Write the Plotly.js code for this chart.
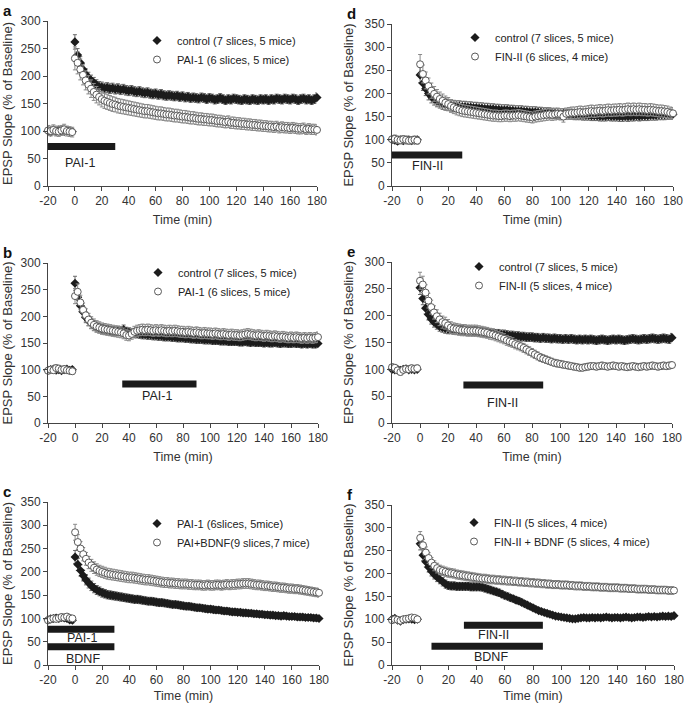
<!DOCTYPE html>
<html>
<head>
<meta charset="utf-8">
<script src="https://cdn.plot.ly/plotly-3.0.1.min.js"></script>
<style>html,body{margin:0;padding:0;background:#fff}</style>
</head>
<body>
<div id="plot" style="width:685px;height:703px"></div>
<script>
// time points (min), baseline every 2 min then post-tetanus every 2 min
const time = [-20,-18,-16,-14,-12,-10,-8,-6,-4,-2,
  0,2,4,6,8,10,12,14,16,18, 20,22,24,26,28,30,32,34,36,38,
  40,42,44,46,48,50,52,54,56,58, 60,62,64,66,68,70,72,74,76,78,
  80,82,84,86,88,90,92,94,96,98, 100,102,104,106,108,110,112,114,116,118,
  120,122,124,126,128,130,132,134,136,138, 140,142,144,146,148,150,152,154,156,158,
  160,162,164,166,168,170,172,174,176,178, 180];

// x tick labels (hyphen minus as in the original)
const xTickVals = [-20, 0, 20, 40, 60, 80, 100, 120, 140, 160, 180];
const xTickText = ["-20", "0", "20", "40", "60", "80", "100", "120", "140", "160", "180"];

// panel a
const aControl = [100,98,101,99,102,100,99,101,100,99,
  262,238,224,212,203,197,192,188,184,181, 180,178,179,177,178,176,177,175,176,174,
  173,174,172,171,172,170,169,170,168,167, 168,166,167,165,164,165,164,163,164,162,
  163,161,162,160,161,160,159,161,160,158, 160,159,157,158,160,158,156,158,157,159,
  158,157,156,158,157,156,158,157,156,158, 157,158,156,158,157,159,158,157,159,158,
  157,159,158,156,158,159,157,158,156,158, 161];
const aPai = [101,100,102,100,99,101,103,100,99,98,
  232,224,212,202,192,184,177,171,166,162, 158,155,153,151,149,148,146,145,144,143,
  142,141,140,139,138,137,136,136,135,134, 133,132,132,131,130,130,129,128,128,127,
  126,126,125,124,124,123,122,122,121,121, 120,120,119,118,118,117,116,117,115,115,
  114,114,113,113,112,112,111,111,110,110, 109,109,108,108,107,108,106,107,106,106,
  105,106,105,104,104,105,103,104,103,103, 102];

// panel d
const dControl = [100,99,97,100,98,99,100,98,99,100,
  240,222,210,200,193,188,184,181,178,176, 175,174,173,172,172,171,171,170,170,169,
  169,168,168,167,167,166,166,165,165,164, 164,164,163,163,162,162,162,161,161,160,
  160,160,159,159,158,158,158,157,157,156, 156,156,155,155,155,154,154,154,153,153,
  153,152,152,152,151,151,151,152,151,151, 151,150,150,151,150,151,151,152,151,152,
  152,152,153,153,153,154,154,154,155,155, 155];
const dFin = [101,102,100,99,101,100,98,99,100,98,
  263,242,228,216,206,199,193,188,184,180, 177,173,170,167,165,163,162,161,160,159,
  158,157,156,155,154,153,152,152,151,151, 152,152,151,152,152,153,152,151,150,149,
  148,150,151,152,153,154,155,154,155,156, 155,150,156,157,158,158,159,160,159,160,
  161,162,161,162,163,162,163,164,163,164, 164,165,164,165,166,165,166,165,166,165,
  165,164,165,164,163,162,162,161,160,158, 157];

// panel b
const bControl = [99,100,101,99,100,98,100,101,99,100,
  262,236,220,208,198,192,187,183,180,178, 176,175,174,173,172,172,173,172,175,171,
  170,169,168,168,167,166,166,165,165,164, 164,163,163,162,162,162,161,161,160,160,
  160,159,159,158,158,157,157,157,156,156, 156,155,155,155,154,154,154,153,153,153,
  153,152,152,153,152,151,152,151,151,151, 150,151,150,150,151,150,149,150,150,149,
  149,150,149,149,148,149,148,149,148,148, 149];
const bPai = [98,100,99,103,102,100,101,99,98,97,
  238,246,226,212,202,194,188,184,181,179, 177,176,175,174,173,172,171,170,168,165,
  164,167,171,173,174,175,174,175,174,173, 174,173,174,173,172,173,172,173,172,171,
  171,170,171,170,169,170,169,168,169,168, 168,167,168,167,166,167,166,165,166,165,
  165,164,165,166,167,166,165,164,165,164, 163,164,163,162,163,162,161,162,161,160,
  161,160,161,160,159,160,159,160,159,160, 161];

// panel e
const eControl = [100,99,100,98,100,101,99,100,99,100,
  252,232,214,202,194,188,184,180,178,176, 175,175,174,174,173,173,172,172,172,171,
  171,170,170,169,168,168,167,166,166,165, 165,164,163,163,162,162,161,161,160,160,
  160,159,159,158,159,158,158,157,158,157, 157,156,157,156,157,156,155,156,155,156,
  155,156,155,154,155,156,155,154,155,156, 155,156,155,154,155,156,157,156,155,156,
  157,156,157,158,157,156,157,158,157,156, 159];
const eFin = [104,103,98,95,99,101,100,102,101,102,
  265,258,243,228,216,206,199,193,188,186, 182,178,176,175,174,173,173,172,172,172,
  172,171,170,169,168,166,165,163,161,159, 157,154,152,150,147,145,143,140,137,134,
  131,128,125,122,120,118,116,114,112,111, 110,109,108,107,106,105,104,103,103,104,
  105,106,106,105,106,107,106,105,106,107, 106,105,106,105,104,105,106,105,104,105,
  106,105,106,107,106,105,106,107,106,107, 108];

// panel c
const cPai = [97,99,100,101,100,102,101,100,97,96,
  232,216,203,192,183,176,170,165,161,158, 155,153,151,150,149,148,147,146,145,144,
  143,142,141,141,140,139,138,137,137,136, 135,134,134,133,132,131,130,130,129,128,
  127,126,126,125,124,123,123,122,121,120, 120,119,118,118,117,116,116,115,114,114,
  113,113,112,112,111,111,110,110,109,109, 108,108,107,107,106,106,105,106,105,104,
  104,104,103,103,103,102,102,102,101,101, 100];
const cPaiBdnf = [96,98,100,99,101,103,102,104,101,100,
  285,264,250,238,228,220,214,209,205,202, 200,198,196,195,194,193,192,191,190,189,
  188,188,187,186,185,184,183,183,182,181, 180,179,178,177,177,176,176,175,175,174,
  174,174,173,173,172,172,172,171,171,172, 171,171,172,172,171,172,173,172,173,173,
  174,174,175,175,175,174,173,172,172,171, 170,170,169,168,168,167,166,166,165,164,
  164,163,163,162,161,160,159,158,157,156, 155];

// panel f
const fFin = [100,102,98,96,99,100,101,100,99,100,
  265,240,226,214,205,198,192,187,182,177, 174,173,173,172,172,172,172,172,171,171,
  171,171,170,168,166,164,162,160,158,155, 152,150,147,145,142,140,137,134,131,128,
  125,122,119,117,115,113,111,109,107,106, 105,104,103,102,101,101,102,103,104,103,
  103,104,103,104,103,104,105,104,103,104, 104,103,104,105,104,103,104,105,105,104,
  105,106,105,106,105,106,107,106,107,106, 108];
const fFinBdnf = [98,100,99,97,100,101,102,104,103,100,
  278,262,246,234,224,217,212,208,206,204, 202,201,200,198,197,196,195,194,193,192,
  191,190,189,189,188,187,187,186,186,185, 185,184,184,183,183,182,182,181,181,180,
  180,179,179,178,178,177,177,176,176,176, 175,175,175,174,174,173,173,173,172,172,
  172,171,171,171,170,170,170,169,169,169, 169,168,168,168,167,167,167,166,166,166,
  166,165,165,165,164,164,164,164,163,163, 163];

// legend labels
const namesA = ["control (7 slices, 5 mice)", "PAI-1 (6 slices, 5 mice)"];
const namesD = ["control (7 slices, 5 mice)", "FIN-II (6 slices, 4 mice)"];
const namesB = ["control (7 slices, 5 mice)", "PAI-1 (6 slices, 5 mice)"];
const namesE = ["control (7 slices, 5 mice)", "FIN-II (5 slices, 4 mice)"];
const namesC = ["PAI-1 (6slices, 5mice)", "PAI+BDNF(9 slices,7 mice)"];
const namesF = ["FIN-II (5 slices, 4 mice)", "FIN-II + BDNF (5 slices, 4 mice)"];

// SEM as % of value (approx.)
const semA = [5, 9];
const semD = [7, 8];
const semB = [5, 6];
const semE = [5, 6];
const semC = [6, 6];
const semF = [5, 5];

// drug application (min): [label, start, end]
const drugA = [["PAI-1", -20, 30]];
const drugD = [["FIN-II", -20, 30]];
const drugB = [["PAI-1", 35, 90]];
const drugE = [["FIN-II", 31, 88]];
const drugC = [["PAI-1", -20, 29], ["BDNF", -20, 29]];
const drugF = [["FIN-II", 31, 87], ["BDNF", 8, 87]];

const W = 685, H = 703;
const FONT = "Liberation Sans, Arial, sans-serif";
const px = v => v / W;
const py = v => 1 - v / H;

// panel layout: letter, plot box [left, right, top, bottom] px, ymax, legend [x, y] px, bar y levels, bar label [x, y]
const panels = [
  {letter: "a", box: [48, 317, 21, 186], ymax: 300, data: [aControl, aPai], names: namesA, sem: semA, drug: drugA,
   leg: [137, 26], barY: [72], lab: [[4, 42]]},
  {letter: "d", box: [392, 673, 24, 186], ymax: 350, data: [dControl, dFin], names: namesD, sem: semD, drug: drugD,
   leg: [455, 23], barY: [67], lab: [[5, 43]]},
  {letter: "b", box: [48, 318, 263, 423], ymax: 300, data: [bControl, bPai], names: namesB, sem: semB, drug: drugB,
   leg: [138, 258], barY: [73], lab: [[61, 50]]},
  {letter: "e", box: [392, 672, 262, 423], ymax: 300, data: [eControl, eFin], names: namesE, sem: semE, drug: drugE,
   leg: [459, 252], barY: [71], lab: [[59, 38]]},
  {letter: "c", box: [48, 319, 502, 665], ymax: 350, data: [cPai, cPaiBdnf], names: namesC, sem: semC, drug: drugC,
   leg: [137, 509], barY: [77, 39], lab: [[5, 58], [6, 13]]},
  {letter: "f", box: [392, 674, 505, 665], ymax: 350, data: [fFin, fFinBdnf], names: namesF, sem: semF, drug: drugF,
   leg: [454, 508], barY: [87, 41], lab: [[52, 66], [50, 18]]}
];

const traces = [];
const layout = {
  width: W, height: H,
  margin: {l: 0, r: 0, t: 0, b: 0},
  paper_bgcolor: "#fff", plot_bgcolor: "#fff",
  font: {family: FONT, color: "#222"},
  showlegend: true,
  shapes: [], annotations: []
};

panels.forEach((p, i) => {
  const n = i + 1;
  const xa = n === 1 ? "x" : "x" + n;
  const ya = n === 1 ? "y" : "y" + n;
  const leg = n === 1 ? "legend" : "legend" + n;
  const axisBase = {
    showline: true, linecolor: "#444", linewidth: 1,
    ticks: "outside", ticklen: 4, tickcolor: "#444",
    showgrid: false, zeroline: false,
    tickfont: {size: 12, family: FONT, color: "#333"},
    fixedrange: true
  };
  layout["xaxis" + (n === 1 ? "" : n)] = Object.assign({}, axisBase, {
    domain: [px(p.box[0]), px(p.box[1])], anchor: ya,
    range: [-20, 180], tickmode: "array", tickvals: xTickVals, ticktext: xTickText,
    title: {text: "Time (min)", font: {size: 12.5, family: FONT, color: "#333"}, standoff: 7}
  });
  layout["yaxis" + (n === 1 ? "" : n)] = Object.assign({}, axisBase, {
    domain: [py(p.box[3]), py(p.box[2])], anchor: xa,
    range: [0, p.ymax], dtick: 50,
    title: {text: "EPSP Slope (% of Baseline)", font: {size: 13, family: FONT, color: "#333"}, standoff: 8}
  });
  layout[leg] = {
    x: px(p.leg[0]), y: py(p.leg[1]), xanchor: "left", yanchor: "top",
    bgcolor: "rgba(0,0,0,0)", borderwidth: 0,
    font: {size: 11, family: FONT, color: "#222"},
    itemwidth: 30, tracegroupgap: 0
  };

  // filled diamonds then open circles
  traces.push({
    x: time, y: p.data[0], xaxis: xa, yaxis: ya, legend: leg, name: p.names[0],
    type: "scatter", mode: "markers", cliponaxis: false,
    marker: {symbol: "diamond", size: 7, color: "#1c1c1c", line: {width: 0}},
    error_y: {type: "percent", value: p.sem[0], color: "#6a6a6a", thickness: 1, width: 2}
  });
  traces.push({
    x: time, y: p.data[1], xaxis: xa, yaxis: ya, legend: leg, name: p.names[1],
    type: "scatter", mode: "markers", cliponaxis: false,
    marker: {symbol: "circle", size: 7, color: "#fff", line: {width: 1, color: "#5a5a5a"}},
    error_y: {type: "percent", value: p.sem[1], color: "#8a8a8a", thickness: 1, width: 2}
  });

  p.drug.forEach((d, k) => {
    layout.shapes.push({
      type: "line", xref: xa, yref: ya, x0: d[1], x1: d[2], y0: p.barY[k], y1: p.barY[k],
      line: {color: "#1a1a1a", width: 7}
    });
    layout.annotations.push({
      xref: xa, yref: ya, x: p.lab[k][0], y: p.lab[k][1], text: d[0], showarrow: false,
      font: {size: 12.5, family: FONT, color: "#222"}
    });
  });

  layout.annotations.push({
    xref: "paper", yref: "paper", x: px(p.box[0] - 47), y: py(p.box[2] - 21),
    xanchor: "left", yanchor: "top", text: "<b>" + p.letter + "</b>", showarrow: false,
    font: {size: 15, family: FONT, color: "#111"}
  });
});

Plotly.newPlot("plot", traces, layout, {displayModeBar: false, staticPlot: true});
</script>
</body>
</html>
